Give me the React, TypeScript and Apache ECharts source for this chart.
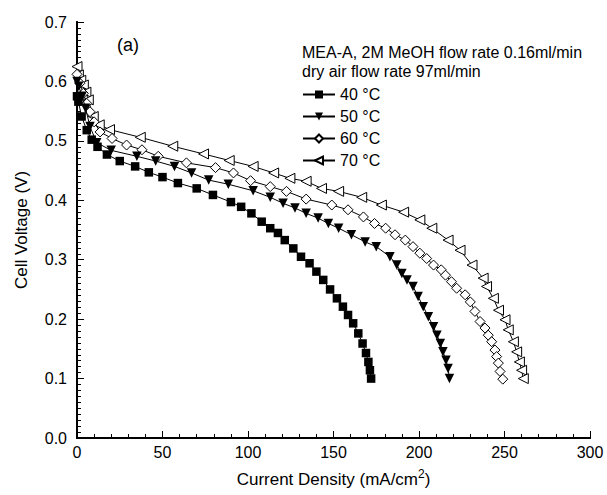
import React, { useEffect, useRef } from "react";
import * as echarts from "echarts";

const FONT = "'Liberation Sans', Arial, Helvetica, sans-serif";

const seriesNames = ["40 °C", "50 °C", "60 °C", "70 °C"];
const headerLines = ["MEA-A, 2M MeOH flow rate 0.16ml/min", "dry air flow rate 97ml/min"];
const panelLabel = "(a)";

const I40 = [0, 0.8, 2.7, 5.7, 8.6, 12, 17.5, 25, 34, 42, 50, 59, 70, 79.5, 90, 96, 102, 108, 113, 117.5, 121.5, 126.5, 131, 136, 140, 144, 148, 152, 155.5, 158.5, 161.5, 164.5, 167, 169, 170.4, 171.3, 172];
const V40 = [0.575, 0.566, 0.541, 0.518, 0.502, 0.49, 0.477, 0.466, 0.457, 0.447, 0.439, 0.429, 0.42, 0.409, 0.397, 0.389, 0.378, 0.364, 0.353, 0.345, 0.333, 0.319, 0.305, 0.294, 0.28, 0.266, 0.25, 0.235, 0.221, 0.207, 0.193, 0.176, 0.159, 0.143, 0.128, 0.114, 0.1];

const I50 = [0, 1, 3, 5, 7.6, 11.5, 20, 35, 46, 57, 67, 77, 88.5, 103, 113, 120.5, 127.5, 134, 141, 147, 153, 160.5, 168.5, 175, 183, 187, 190, 193, 196.5, 199.5, 202.5, 205.5, 208.5, 210.5, 212.5, 214, 215.8, 217, 217.8];
const V50 = [0.6, 0.592, 0.575, 0.555, 0.524, 0.497, 0.484, 0.474, 0.466, 0.457, 0.446, 0.434, 0.427, 0.416, 0.405, 0.395, 0.387, 0.378, 0.37, 0.361, 0.353, 0.342, 0.33, 0.322, 0.305, 0.291, 0.277, 0.266, 0.255, 0.238, 0.221, 0.204, 0.187, 0.173, 0.159, 0.145, 0.131, 0.117, 0.1];

const I60 = [0, 1.7, 3.7, 5.7, 7.6, 10, 13.5, 20.5, 29, 38, 47.5, 64, 81, 91.5, 101.5, 113, 122.5, 134, 149, 158.5, 167.5, 174, 180.5, 186, 192, 196.5, 200.5, 204.5, 208.5, 213, 215.5, 219, 222, 227, 230, 232.7, 235.7, 238.6, 240.5, 242.5, 244.4, 245.4, 246.4, 247.4, 249];
const V60 = [0.612, 0.597, 0.58, 0.563, 0.549, 0.532, 0.515, 0.504, 0.493, 0.485, 0.474, 0.463, 0.455, 0.446, 0.433, 0.423, 0.415, 0.402, 0.392, 0.384, 0.372, 0.361, 0.353, 0.342, 0.333, 0.322, 0.311, 0.302, 0.291, 0.283, 0.274, 0.263, 0.252, 0.241, 0.229, 0.213, 0.196, 0.185, 0.173, 0.162, 0.148, 0.137, 0.126, 0.112, 0.099];

const I70 = [0, 0.8, 2.2, 3.7, 5.2, 6.6, 9.5, 13, 19, 37, 56, 74, 89, 103, 115, 124.5, 134, 143, 153, 166.5, 178, 191, 200.5, 207.5, 217, 224, 231, 237.5, 239.5, 243.5, 246.5, 250.3, 252.2, 255.2, 257.1, 258.7, 260, 261];
const V70 = [0.625, 0.611, 0.602, 0.594, 0.582, 0.569, 0.541, 0.527, 0.519, 0.506, 0.491, 0.478, 0.467, 0.457, 0.446, 0.437, 0.432, 0.42, 0.415, 0.405, 0.392, 0.38, 0.367, 0.353, 0.333, 0.316, 0.291, 0.269, 0.255, 0.235, 0.215, 0.199, 0.182, 0.162, 0.145, 0.128, 0.114, 0.1];

const currents = [I40, I50, I60, I70];
const voltages = [V40, V50, V60, V70];

const symbols = ["rect", "triangle", "diamond", "triangle"];
const symbolRotates = [0, 180, 0, 90];
const symbolSizes = [8.5, 9.5, 10, 10];
const filled = [true, true, false, false];

export default function App() {
  const ref = useRef<HTMLDivElement>(null);
  useEffect(() => {
    if (!ref.current) return;
    const chart = echarts.init(ref.current, undefined, { renderer: "svg" });
    const series = seriesNames.map((name, k) => ({
      name,
      type: "line",
      data: currents[k].map((x, i) => [x, voltages[k][i]]),
      symbol: symbols[k],
      symbolSize: symbolSizes[k],
      symbolRotate: symbolRotates[k],
      showAllSymbol: true,
      lineStyle: { color: "#000", width: 1 },
      itemStyle: filled[k]
        ? { color: "#000", borderColor: "#000", borderWidth: 0 }
        : { color: "#fff", borderColor: "#000", borderWidth: 1 },
      emphasis: { disabled: true },
      z: 10 - k,
    }));
    const axisCommon = {
      axisLine: { show: true, lineStyle: { color: "#000", width: 2 } },
      splitLine: { show: false },
    };
    chart.setOption({
      animation: false,
      backgroundColor: "#fff",
      textStyle: { fontFamily: FONT },
      grid: { left: 77, right: 17, top: 22, bottom: 57, containLabel: false },
      xAxis: [
        {
          type: "value",
          min: 0,
          max: 300,
          interval: 50,
          ...axisCommon,
          axisTick: { show: true, inside: true, length: 7, lineStyle: { color: "#000", width: 1 } },
          minorTick: { show: true, splitNumber: 5, length: 4, lineStyle: { color: "#000", width: 1 } },
          axisLabel: { color: "#000", fontSize: 16, fontFamily: FONT, margin: 6 },
          name: "Current Density (mA/cm{sup|2})",
          nameLocation: "middle",
          nameGap: 30,
          nameTextStyle: {
            color: "#000",
            fontSize: 17,
            fontFamily: FONT,
            rich: { sup: { fontSize: 12, fontFamily: FONT, color: "#000", padding: [0, 0, 10, 0] } },
          },
        },
        {
          type: "value",
          position: "top",
          min: 0,
          max: 300,
          ...axisCommon,
          axisTick: { show: false },
          axisLabel: { show: false },
        },
      ],
      yAxis: [
        {
          type: "value",
          min: 0,
          max: 0.7,
          interval: 0.1,
          ...axisCommon,
          axisTick: { show: true, inside: true, length: 7, lineStyle: { color: "#000", width: 1 } },
          minorTick: { show: true, splitNumber: 10, length: 4, lineStyle: { color: "#000", width: 1 } },
          axisLabel: {
            color: "#000",
            fontSize: 16,
            fontFamily: FONT,
            margin: 10,
            formatter: (v: number) => v.toFixed(1),
          },
          name: "Cell Voltage (V)",
          nameLocation: "middle",
          nameRotate: 90,
          nameGap: 47,
          nameTextStyle: { color: "#000", fontSize: 17, fontFamily: FONT },
        },
        {
          type: "value",
          position: "right",
          min: 0,
          max: 0.7,
          ...axisCommon,
          axisTick: { show: false },
          axisLabel: { show: false },
        },
      ],
      legend: {
        orient: "vertical",
        left: 302,
        top: 86,
        padding: 0,
        itemWidth: 32,
        itemHeight: 10,
        itemGap: 5,
        selectedMode: false,
        data: seriesNames,
        textStyle: { color: "#000", fontSize: 16, fontFamily: FONT, lineHeight: 17 },
      },
      graphic: [
        {
          type: "text",
          x: 302,
          y: 52,
          style: { text: headerLines[0], fontSize: 16, fontFamily: FONT, fill: "#000", textVerticalAlign: "middle" },
        },
        {
          type: "text",
          x: 302,
          y: 71,
          style: { text: headerLines[1], fontSize: 16, fontFamily: FONT, fill: "#000", textVerticalAlign: "middle" },
        },
        {
          type: "text",
          x: 128,
          y: 45,
          style: { text: panelLabel, fontSize: 18, fontFamily: FONT, fill: "#000", textAlign: "center", textVerticalAlign: "middle" },
        },
      ],
      series,
    });
    return () => chart.dispose();
  }, []);
  return <div ref={ref} style={{ width: 607, height: 495, position: "absolute", left: 0, top: 0 }} />;
}
